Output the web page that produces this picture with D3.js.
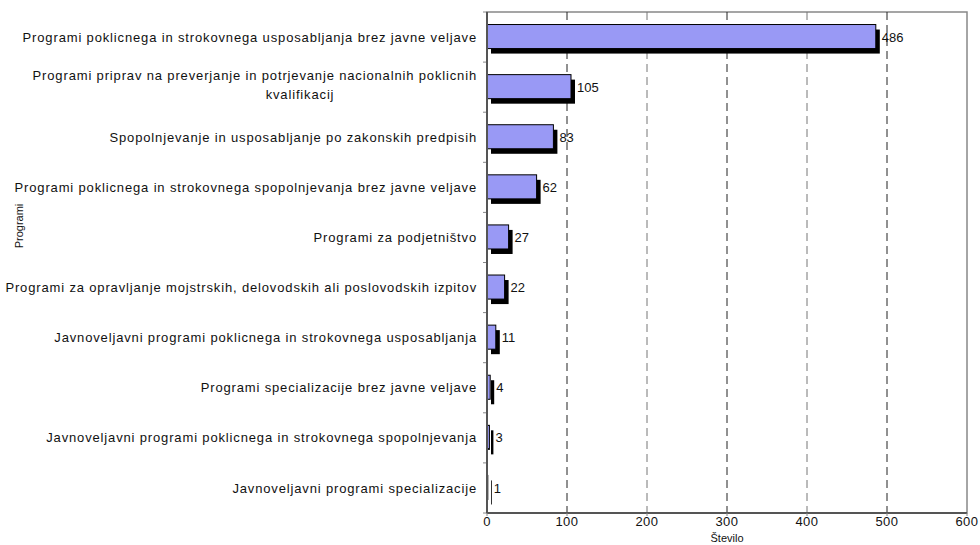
<!DOCTYPE html>
<html>
<head>
<meta charset="utf-8">
<script src="https://cdn.jsdelivr.net/npm/d3@7"></script>
<style>
  body { margin: 0; background: #fff; }
  text { font-family: "Liberation Sans", Arial, sans-serif; fill: #111; }
</style>
</head>
<body>
<div id="chart"></div>
<script>
var categories = [
  "Programi poklicnega in strokovnega usposabljanja brez javne veljave",
  "Programi priprav na preverjanje in potrjevanje nacionalnih poklicnih|kvalifikacij",
  "Spopolnjevanje in usposabljanje po zakonskih predpisih",
  "Programi poklicnega in strokovnega spopolnjevanja brez javne veljave",
  "Programi za podjetništvo",
  "Programi za opravljanje mojstrskih, delovodskih ali poslovodskih izpitov",
  "Javnoveljavni programi poklicnega in strokovnega usposabljanja",
  "Programi specializacije brez javne veljave",
  "Javnoveljavni programi poklicnega in strokovnega spopolnjevanja",
  "Javnoveljavni programi specializacije"
];
var values = [486, 105, 83, 62, 27, 22, 11, 4, 3, 1];
var xTicks = [0, 100, 200, 300, 400, 500, 600];

var width = 980, height = 545,
    margin = {top: 12, right: 13, bottom: 32, left: 487};
var iw = width - margin.left - margin.right,
    ih = height - margin.top - margin.bottom;

var svg = d3.select("#chart").append("svg")
  .attr("width", width).attr("height", height);
var g = svg.append("g")
  .attr("transform", "translate(" + margin.left + "," + margin.top + ")");

var x = d3.scaleLinear().domain([0, 600]).range([0, iw]);
var y = d3.scaleBand().domain(categories).range([0, ih]).paddingInner(0.5).paddingOuter(0.25);

// frame
g.append("rect").attr("width", iw).attr("height", ih)
  .attr("fill", "none").attr("stroke", "#888").attr("stroke-width", 1.5);

// grid
g.selectAll("line.grid").data(xTicks.slice(1, -1)).enter().append("line")
  .attr("class", "grid")
  .attr("x1", function(d) { return x(d); }).attr("x2", function(d) { return x(d); })
  .attr("y1", 0).attr("y2", ih)
  .attr("stroke", function(d, i) { return i % 2 ? "#777" : "#222"; })
  .attr("stroke-dasharray", "8,5");

// y ticks at band boundaries
g.selectAll("line.ytick").data(d3.range(categories.length + 1)).enter().append("line")
  .attr("x1", -4).attr("x2", 0)
  .attr("y1", function(i) { return i * ih / categories.length; })
  .attr("y2", function(i) { return i * ih / categories.length; })
  .attr("stroke", "#888");

// bars: shadow then bar
var bars = g.selectAll("g.bar").data(values).enter().append("g").attr("class", "bar");
bars.append("rect")
  .attr("x", 4)
  .attr("y", function(d, i) { return y(categories[i]) + 5; })
  .attr("width", function(d) { return x(d); })
  .attr("height", y.bandwidth() - 1)
  .attr("fill", "#000");
bars.append("rect")
  .attr("x", 0.5)
  .attr("y", function(d, i) { return y(categories[i]); })
  .attr("width", function(d) { return Math.max(x(d) - 0.5, 0); })
  .attr("height", y.bandwidth() - 1)
  .attr("fill", "#9999f5").attr("stroke", "#000").attr("stroke-width", 1);
bars.append("text")
  .attr("x", function(d) { return x(d) + 6; })
  .attr("y", function(d, i) { return y(categories[i]) + y.bandwidth() / 2; })
  .attr("dy", "0.35em")
  .attr("font-size", 13)
  .text(function(d) { return d; });

// axis lines
g.append("line").attr("x1", 0).attr("x2", 0).attr("y1", 0).attr("y2", ih)
  .attr("stroke", "#555").attr("stroke-width", 2);
g.append("line").attr("x1", 0).attr("x2", iw).attr("y1", ih).attr("y2", ih)
  .attr("stroke", "#555").attr("stroke-width", 2);

// category labels
categories.forEach(function(c, i) {
  var parts = c.split("|");
  var cy = y(c) + y.bandwidth() / 2;
  var lab = function() {
    return g.append("text").attr("font-size", 13).attr("letter-spacing", 0.85).attr("dy", "0.35em");
  };
  if (parts.length === 1) {
    lab().attr("x", -10).attr("y", cy).attr("text-anchor", "end").text(c);
  } else {
    lab().attr("x", -10).attr("y", cy - 12).attr("text-anchor", "end").text(parts[0]);
    lab().attr("x", -187).attr("y", cy + 7).attr("text-anchor", "middle").text(parts[1]);
  }
});

// x tick labels
g.selectAll("text.xt").data(xTicks).enter().append("text")
  .attr("x", function(d) { return x(d); }).attr("y", ih + 13)
  .attr("text-anchor", "middle").attr("font-size", 13).attr("letter-spacing", 0.5)
  .text(function(d) { return d; });
g.selectAll("line.xtick").data(xTicks).enter().append("line")
  .attr("x1", function(d) { return x(d); }).attr("x2", function(d) { return x(d); })
  .attr("y1", ih).attr("y2", ih + 3).attr("stroke", "#888");

// axis titles
svg.append("text").attr("x", margin.left + x(300)).attr("y", 542)
  .attr("text-anchor", "middle").attr("font-size", 11).text("Število");
svg.append("text").attr("transform", "translate(23,226) rotate(-90)")
  .attr("text-anchor", "middle").attr("font-size", 11).text("Programi");
</script>
</body>
</html>
